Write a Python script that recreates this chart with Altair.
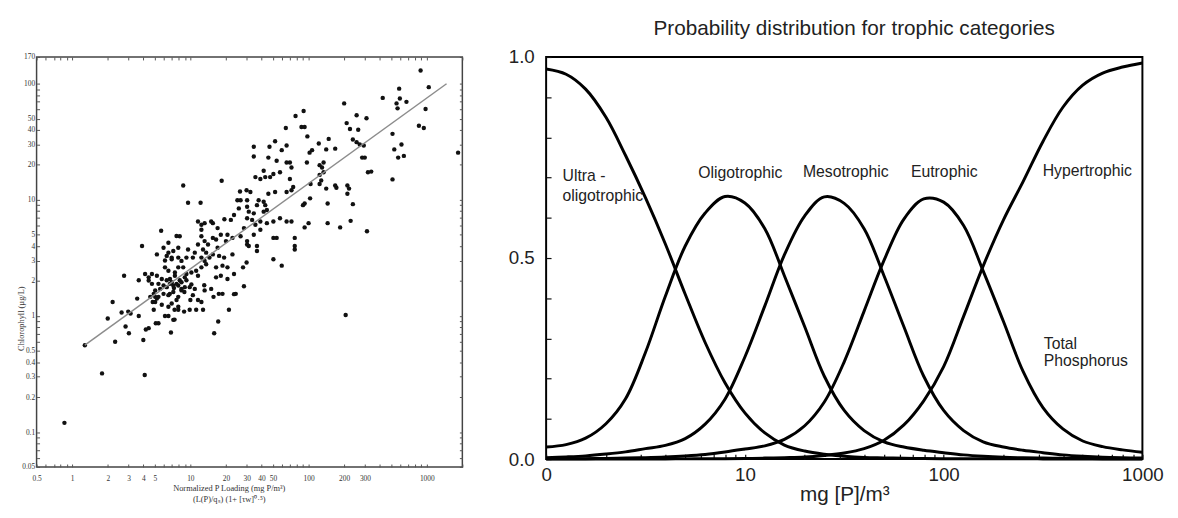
import altair as alt
import pandas as pd

# ---------------- Left panel: chlorophyll vs normalized P loading ----------------
scatter_pairs = [
    (0.86, 0.12), (1.79, 0.32), (4.11, 0.31), (1.28, 0.56), (2.0, 0.95), (2.2, 1.32), (2.31, 0.6),
    (2.75, 2.22), (2.83, 0.81), (3.02, 0.71), (2.98, 1.09), (3.12, 1.05), (3.55, 1.41), (3.66, 1.0),
    (4.0, 0.62), (4.2, 0.765), (4.44, 0.785), (5.1, 0.865), (6.85, 0.72), (7.17, 0.925), (6.1, 1.0),
    (6.52, 1.0), (7.35, 1.13), (7.9, 1.13), (8.85, 1.09), (9.87, 1.13), (11.2, 1.13), (12.8, 1.13),
    (10.0, 1.37), (10.5, 1.51), (11.6, 1.37), (12.4, 1.32), (15.9, 0.71), (17.2, 0.895), (21.2, 1.13),
    (15.7, 1.46), (17.4, 1.55), (18.7, 1.55), (24.2, 1.55), (28.4, 1.8), (20.6, 2.08), (13.1, 1.84),
    (8.41, 1.71), (8.9, 1.61), (4.8, 1.32), (5.04, 1.46), (23.4, 1.54), (206, 1.02), (3.9, 4.0),
    (5.66, 5.42), (8.13, 4.86), (8.7, 13.3), (18.4, 14.6), (9.56, 9.44), (12.2, 9.44), (2.62, 1.07),
    (6.52, 3.51), (7.64, 4.88), (6.1, 3.0), (6.95, 3.08), (7.9, 3.18), (4.9, 1.55), (5.21, 1.41),
    (4.9, 1.13), (5.73, 1.25), (6.52, 1.2), (5.37, 0.865), (7.35, 0.93), (6.7, 1.55), (7.9, 1.46),
    (7.9, 1.2), (3.66, 2.03), (4.14, 2.3), (4.44, 2.15), (6.52, 4.27),
    (10.2, 2.37), (11.2, 2.45), (12.4, 2.62), (11.6, 2.22), (13.6, 2.79), (14.5, 3.18), (15.5, 3.39),
    (12.4, 3.18), (13.2, 2.98), (10.5, 3.18), (10.9, 3.51), (9.26, 3.18), (8.41, 2.98), (7.9, 2.62),
    (7.4, 2.37), (8.7, 2.62), (9.26, 2.3), (6.95, 3.18), (6.31, 3.29), (6.1, 2.62), (6.52, 2.45),
    (9.56, 3.74), (7.9, 3.87), (7.17, 3.62), (5.93, 3.87), (5.21, 3.39), (4.73, 2.3), (5.21, 2.22),
    (5.73, 2.08), (5.37, 1.89), (5.93, 1.83), (6.31, 1.77), (6.72, 1.89), (7.17, 1.83), (7.9, 1.83),
    (5.55, 1.71), (5.04, 1.66), (4.73, 1.89), (4.44, 2.02), (5.93, 1.55), (5.37, 1.46), (6.52, 1.51),
    (7.17, 1.61), (5.04, 1.32), (4.58, 1.46), (6.95, 1.28), (7.64, 1.37), (8.41, 1.66), (8.97, 1.77),
    (9.87, 1.77), (10.9, 1.71), (13.2, 1.66), (15.0, 1.71), (16.5, 2.15), (18.1, 2.22), (16.5, 2.62),
    (18.7, 2.71), (20.6, 2.62), (22.7, 3.39), (19.3, 3.18), (17.5, 3.29), (17.0, 3.87), (20.0, 4.41),
    (22.7, 4.7), (26.6, 4.86), (30.2, 4.41), (34.4, 5.01), (39.1, 5.53), (28.4, 5.71), (35.5, 6.1),
    (39.1, 6.51), (44.4, 6.3), (50.4, 6.51), (33.3, 6.72), (30.2, 6.94), (31.2, 7.91), (34.4, 7.65),
    (36.6, 9.0), (30.2, 8.73), (25.7, 8.44), (23.4, 7.4), (22.0, 6.72), (20.6, 5.01), (18.1, 5.01),
    (15.5, 4.7), (13.2, 4.41), (12.4, 4.86), (12.4, 5.53), (12.4, 6.1), (13.2, 6.3), (15.5, 6.3),
    (14.1, 4.12), (11.6, 4.12), (12.8, 3.74), (13.6, 3.51), (15.0, 6.51), (11.6, 6.51), (19.4, 6.81),
    (17.0, 5.71), (16.5, 4.55), (50.4, 4.7), (53.7, 4.7), (50.4, 3.08), (59.3, 2.71), (57.3, 6.94),
    (65.2, 6.51), (71.7, 6.51), (76.4, 4.7), (76.4, 4.0), (76.4, 3.74), (25.0, 9.93), (26.6, 9.93),
    (30.2, 9.93), (26.3, 11.8), (29.9, 12.1), (32.2, 11.7), (35.5, 15.7), (39.1, 15.1), (43.0, 15.7),
    (47.3, 15.7), (41.7, 17.8), (50.4, 16.7), (57.3, 17.3), (37.8, 9.93), (41.7, 9.62), (43.0, 9.0),
    (45.7, 11.3), (52.1, 11.7), (41.7, 7.91), (44.4, 8.17), (65.2, 11.7), (71.7, 12.1), (74.1, 12.9),
    (65.2, 21.0), (69.5, 21.0), (71.7, 19.0), (69.5, 15.1), (30.2, 4.12), (31.2, 4.0), (36.6, 4.0),
    (36.6, 3.62),
    (887, 130), (584, 90.7), (1040, 93.5), (424, 75.5), (592, 74.6), (673, 69.8), (555, 67.7),
    (566, 61.4), (200, 67.7), (90.8, 58.2), (77.6, 52.8), (255, 53.6), (309, 50.5), (977, 60.5),
    (210, 45.8), (224, 40.8), (263, 40.2), (64.2, 41.6), (87.1, 42.4), (92.6, 42.4), (97.7, 35.2),
    (858, 43.5), (944, 41.6), (513, 37.0), (52.1, 32.0), (148, 33.5), (122, 30.6), (237, 33.1),
    (255, 31.4), (271, 30.0), (293, 29.4), (46.7, 28.7), (59.3, 26.8), (65.2, 29.4), (141, 27.2),
    (168, 27.6), (531, 27.2), (611, 30.0), (573, 23.1), (640, 23.9), (1840, 25.5), (34.4, 28.7),
    (34.4, 23.6), (45.7, 23.1), (53.7, 21.7), (107, 26.8), (102, 25.5), (96.8, 21.0), (124, 19.9),
    (134, 21.0), (284, 23.1), (299, 23.1), (318, 17.3), (339, 17.5), (130, 19.0), (134, 17.3),
    (124, 16.4), (104, 13.7), (124, 13.7), (128, 14.7), (141, 12.5), (168, 13.3), (172, 12.7),
    (213, 13.3), (220, 12.5), (213, 11.3), (237, 9.18), (145, 9.31), (92.6, 9.31), (89.7, 9.0),
    (103, 10.3), (92.6, 5.79), (100, 6.3), (145, 6.3), (185, 5.79), (227, 6.59), (312, 5.36),
    (27.9, 2.62), (29.9, 2.89), (23.4, 2.3), (513, 15.0),
    (6.31, 2.03), (6.95, 1.95), (7.64, 1.89), (8.13, 2.03), (7.26, 1.74), (6.72, 2.08), (7.4, 2.22),
    (8.41, 1.95), (9.26, 2.03), (10.2, 1.87), (8.97, 2.15),
]
fit_load = [1.28, 1470]
fit_chl = [0.56, 100]

left_x_ticks = [0.5, 0.6, 0.7, 0.8, 0.9, 1, 2, 3, 4, 5, 6, 7, 8, 9, 10, 20, 30, 40, 50, 60, 70, 80, 90,
                100, 200, 300, 400, 500, 600, 700, 800, 900, 1000, 2000]
left_x_labels = [0.5, 1, 2, 3, 4, 5, 10, 20, 30, 40, 50, 100, 200, 300, 1000]
left_y_ticks = [0.05, 0.06, 0.07, 0.08, 0.09, 0.1, 0.2, 0.3, 0.4, 0.5, 0.6, 0.7, 0.8, 0.9, 1, 2, 3, 4, 5,
                6, 7, 8, 9, 10, 20, 30, 40, 50, 60, 70, 80, 90, 100, 170]
left_y_labels = [0.05, 0.1, 0.2, 0.3, 0.4, 0.5, 1, 2, 3, 4, 5, 10, 20, 30, 40, 50, 100, 170]

# ---------------- Right panel: probability curves ----------------
tp = [1, 1.26, 1.58, 2.0, 2.51, 3.16, 3.98, 5.01, 6.31, 7.94, 10, 12.6, 15.8, 20.0, 25.1, 31.6, 39.8,
      50.1, 63.1, 79.4, 100, 126, 158, 200, 251, 316, 398, 501, 631, 794, 1000]
ultra = [0.97, 0.957, 0.92, 0.85, 0.755, 0.65, 0.535, 0.41, 0.29, 0.19, 0.115, 0.065, 0.035, 0.02,
         0.012, 0.007, 0.004, 0.003, 0.002, 0.0015, 0.001, 0.001, 0.001, 0.0008, 0.0006, 0.0005,
         0.0004, 0.0003, 0.0002, 0.0002, 0.0001]
oligo = [0.03, 0.036, 0.052, 0.088, 0.15, 0.265, 0.405, 0.53, 0.612, 0.653, 0.637, 0.573, 0.456, 0.329,
         0.206, 0.121, 0.071, 0.043, 0.03, 0.022, 0.016, 0.0105, 0.007, 0.0046, 0.0033, 0.0025, 0.002,
         0.0015, 0.001, 0.001, 0.0008]
meso = [0.0037, 0.0055, 0.008, 0.0125, 0.018, 0.026, 0.034, 0.051, 0.087, 0.149, 0.254, 0.381, 0.508,
        0.605, 0.652, 0.636, 0.573, 0.456, 0.329, 0.206, 0.121, 0.071, 0.043, 0.03, 0.022, 0.016,
        0.0105, 0.007, 0.0046, 0.0033, 0.0025]
eu = [0.0006, 0.0008, 0.001, 0.0018, 0.0026, 0.0036, 0.0052, 0.0078, 0.0116, 0.0176, 0.025, 0.033,
      0.049, 0.083, 0.142, 0.242, 0.368, 0.494, 0.597, 0.647, 0.639, 0.581, 0.468, 0.342, 0.218, 0.128,
      0.075, 0.045, 0.031, 0.023, 0.017]
hyper = [0.0001, 0.0001, 0.0002, 0.0002, 0.0003, 0.0004, 0.0005, 0.0006, 0.0008, 0.001, 0.0015, 0.0025,
         0.0035, 0.005, 0.009, 0.015, 0.026, 0.047, 0.085, 0.145, 0.23, 0.355, 0.48, 0.595, 0.69, 0.79,
         0.875, 0.93, 0.96, 0.975, 0.985]
categories = ["Ultra-oligotrophic", "Oligotrophic", "Mesotrophic", "Eutrophic", "Hypertrophic"]

labels_center = ["Oligotrophic", "Mesotrophic", "Eutrophic"]
labels_center_tp = [9.48, 32.2, 100.7]
labels_center_p = [0.711, 0.713, 0.713]
labels_left = ["Ultra -", "oligotrophic", "Hypertrophic", "Total", "Phosphorus"]
labels_left_tp = [1.21, 1.21, 315, 319, 319]
labels_left_p = [0.703, 0.654, 0.716, 0.287, 0.245]

right_x_ticks = [1, 2, 3, 4, 5, 6, 7, 8, 9, 10, 20, 30, 40, 50, 60, 70, 80, 90, 100, 200, 300, 400, 500,
                 600, 700, 800, 900, 1000]
right_y_ticks = [0, 0.1, 0.2, 0.3, 0.4, 0.5, 0.6, 0.7, 0.8, 0.9, 1.0]

# ---------------- build left chart ----------------
scatter_df = pd.DataFrame(scatter_pairs, columns=["load", "chl"])
fit_df = pd.DataFrame({"load": fit_load, "chl": fit_chl})

lx = alt.Scale(type="log", domain=[0.5, 2000], nice=False)
ly = alt.Scale(type="log", domain=[0.05, 170], nice=False)
LFONT = "Liberation Serif"

x_lab_expr = f"indexof({left_x_labels}, datum.value) >= 0 ? format(datum.value, '~g') : ''"
y_lab_expr = f"indexof({left_y_labels}, datum.value) >= 0 ? format(datum.value, '~g') : ''"

pts = alt.Chart(scatter_df).mark_circle(size=20, color="#111111", opacity=1).encode(
    x=alt.X("load:Q", scale=lx, axis=alt.Axis(
        values=left_x_ticks, labelExpr=x_lab_expr, offset=-3, tickSize=3, tickColor="#555",
        domain=False, grid=False, labelFont=LFONT, labelFontSize=7.5, labelColor="#333",
        labelPadding=8, labelFlush=False, labelOverlap=False,
        title=["Normalized P Loading (mg P/m³)", "(L(P)/qₛ)    (1+ [τw]⁰·⁵)"],
        titleFont=LFONT, titleFontSize=8.5, titleFontWeight="normal", titleColor="#333",
        titlePadding=1, titleX=195, titleLineHeight=12)),
    y=alt.Y("chl:Q", scale=ly, axis=alt.Axis(
        values=left_y_ticks, labelExpr=y_lab_expr, offset=-3, tickSize=3, tickColor="#555",
        domain=False, grid=False, labelFont=LFONT, labelFontSize=7.5, labelColor="#333",
        labelPadding=2, labelFlush=False, labelOverlap=False,
        title="Chlorophyll (µg/L)", titleFont=LFONT, titleFontSize=8.5, titleFontWeight="normal",
        titleColor="#333", titleX=-14, titleY=265)),
)

fit = alt.Chart(fit_df).mark_line(color="#8c8c8c", strokeWidth=1.5).encode(
    x=alt.X("load:Q", scale=lx, axis=alt.Axis(
        orient="top", values=left_x_ticks, labels=False, title=None, offset=-3, tickSize=3,
        tickColor="#555", domain=False, grid=False)),
    y=alt.Y("chl:Q", scale=ly, axis=alt.Axis(
        orient="right", values=left_y_ticks, labels=False, title=None, offset=-3, tickSize=3,
        tickColor="#555", domain=False, grid=False)),
)

left = alt.layer(pts, fit).resolve_axis(x="independent", y="independent").properties(
    width=432, height=416, view=alt.ViewBackground(stroke="#444", strokeWidth=1.5))

# ---------------- build right chart ----------------
rows = []
for name, vals in zip(categories, [ultra, oligo, meso, eu, hyper]):
    for t, v in zip(tp, vals):
        rows.append({"tp": t, "prob": v, "category": name})
curve_df = pd.DataFrame(rows)
lc_df = pd.DataFrame({"tp": labels_center_tp, "prob": labels_center_p, "name": labels_center})
ll_df = pd.DataFrame({"tp": labels_left_tp, "prob": labels_left_p, "name": labels_left})

rx = alt.Scale(type="log", domain=[1, 1000], nice=False)
ry = alt.Scale(domain=[0, 1], nice=False)
RFONT = "Liberation Sans"

rx_expr = "datum.value == 1 ? '0' : (indexof([10, 100, 1000], datum.value) >= 0 ? format(datum.value, 'd') : '')"
ry_expr = "indexof([0, 0.5, 1], datum.value) >= 0 ? format(datum.value, '.1f') : ''"

curves = alt.Chart(curve_df).mark_line(color="black", strokeWidth=3, interpolate="catmull-rom").encode(
    x=alt.X("tp:Q", scale=rx, axis=alt.Axis(
        values=right_x_ticks, labelExpr=rx_expr, offset=-5, tickSize=5, tickColor="#111",
        tickWidth=1.2, domain=False, grid=False, labelFont=RFONT, labelFontSize=19,
        labelColor="#222", labelPadding=7, labelFlush=False, labelOverlap=False,
        title="mg [P]/m³", titleFont=RFONT, titleFontSize=21, titleFontWeight="normal",
        titleColor="#222", titlePadding=-1)),
    y=alt.Y("prob:Q", scale=ry, axis=alt.Axis(
        values=right_y_ticks, labelExpr=ry_expr, offset=-5, tickSize=5, tickColor="#111",
        tickWidth=1.2, domain=False, grid=False, labelFont=RFONT, labelFontSize=19,
        labelColor="#222", labelPadding=12, labelFlush=False, labelOverlap=False, title=None)),
    detail="category:N",
)

text_c = alt.Chart(lc_df).mark_text(align="center", baseline="middle", font=RFONT, fontSize=16,
                                    color="#222").encode(
    x=alt.X("tp:Q", scale=rx), y=alt.Y("prob:Q", scale=ry), text="name:N")
text_l = alt.Chart(ll_df).mark_text(align="left", baseline="middle", font=RFONT, fontSize=16,
                                    color="#222").encode(
    x=alt.X("tp:Q", scale=rx), y=alt.Y("prob:Q", scale=ry), text="name:N")

right = alt.layer(curves, text_c, text_l).properties(
    width=605, height=408,
    title=alt.TitleParams("Probability distribution for trophic categories", font=RFONT,
                          fontSize=21, fontWeight="normal", color="#222", offset=9, dx=10,
                          anchor="middle"),
    view=alt.ViewBackground(stroke="black", strokeWidth=2))

chart = alt.hconcat(left, right, spacing=85, bounds="flush").properties(
    padding={"left": 8, "top": 6, "right": 5, "bottom": 5}
).configure(background="white")

chart.save("out.html", embed_options={"renderer": "svg", "actions": False})
